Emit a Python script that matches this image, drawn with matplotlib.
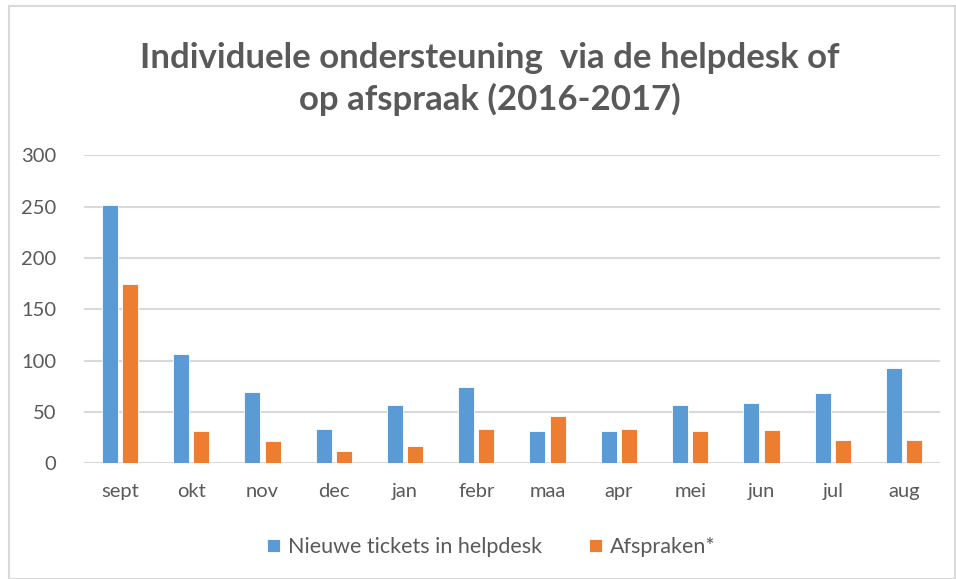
import numpy as np
import matplotlib

matplotlib.use("Agg")
import matplotlib.pyplot as plt
from matplotlib.patches import Rectangle

months = ["sept", "okt", "nov", "dec", "jan", "febr", "maa", "apr", "mei", "jun", "jul", "aug"]
tickets = [251, 106, 69, 33, 57, 74, 31, 31, 57, 59, 68, 93]
afspraken = [175, 31, 22, 12, 17, 33, 46, 33, 31, 32, 23, 23]
yticks = [0, 50, 100, 150, 200, 250, 300]

blue = "#5B9BD5"
orange = "#ED7D31"
grey = "#595959"

plt.rcParams["font.family"] = ["Lato", "DejaVu Sans"]

fig = plt.figure(figsize=(9.56, 5.79), dpi=100)
ax = fig.add_axes([0.088, 0.2, 0.895, 0.532])

x = np.arange(len(months))
w = 0.225
gap = 0.06
ax.bar(x - (w + gap) / 2, tickets, w, color=blue, edgecolor="white", linewidth=0.6,
       label="Nieuwe tickets in helpdesk", zorder=3)
ax.bar(x + (w + gap) / 2, afspraken, w, color=orange, edgecolor="white", linewidth=0.6,
       label="Afspraken*", zorder=3)

ax.set_xlim(-0.5, len(months) - 0.5)
ax.set_ylim(0, 300)
ax.set_yticks(yticks)
ax.set_xticks(x)
ax.set_xticklabels(months)
ax.grid(axis="y", color="#d9d9d9", linewidth=1.5, zorder=0)
for s in ax.spines.values():
    s.set_visible(False)
ax.tick_params(axis="both", length=0, labelsize=14.5, labelcolor=grey)
ax.tick_params(axis="y", pad=20)
ax.tick_params(axis="x", pad=14)

fig.text(0.512, 0.864, "Individuele ondersteuning  via de helpdesk of\nop afspraak (2016-2017)",
         ha="center", va="center", fontsize=25, fontweight="bold", color=grey,
         linespacing=1.33)

fig.legend(loc="center", bbox_to_anchor=(0.514, 0.055), ncol=2, frameon=False,
           fontsize=15.5, labelcolor=grey, handlelength=0.6, handleheight=0.6,
           handletextpad=0.35, columnspacing=2.2)

fig.patches.append(Rectangle((0.009, 0.0), 0.99, 0.99, transform=fig.transFigure,
                             fill=False, edgecolor="#d9d9d9", linewidth=1.5))

fig.savefig("out.png", dpi=100)
plt.close(fig)
